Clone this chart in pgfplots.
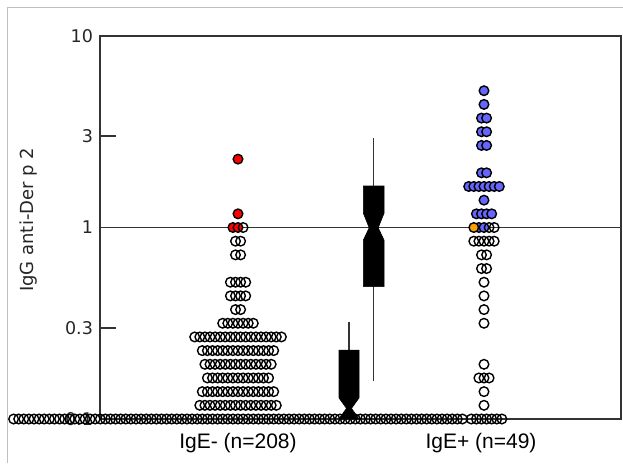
\documentclass[border=0pt]{standalone}
\usepackage{pgfplots}
\pgfplotsset{compat=1.18}
\usepackage{fontspec}
\setmainfont{DejaVu Sans}
\newfontfamily\catfont{Liberation Sans}

\definecolor{frame}{RGB}{51,51,51}
\definecolor{ptred}{RGB}{255,0,0}
\definecolor{ptblue}{RGB}{102,102,255}
\definecolor{ptorange}{RGB}{250,160,0}

% 1 px of the reference = 0.5pt
\begin{document}
\begin{tikzpicture}
\useasboundingbox (0,0) rectangle (311.5pt,231.5pt);
\draw[black!25, line width=0.5pt] (3.5pt,0) -- (3.5pt,228pt) -- (311.5pt,228pt);
\begin{axis}[
    at={(50pt,22pt)}, anchor=south west,
    scale only axis, width=260.5pt, height=191.5pt,
    xmin=100, xmax=621, ymin=0.1, ymax=10, ymode=log,
    clip=false,
    axis line style={frame, line width=0.9pt},
    ytick={0.1,0.3,1,3,10}, yticklabels={0.1,0.3,1,3,10},
    yminorticks=false,
    ytick pos=left, xtick pos=bottom, tick align=inside,
    major tick length=8pt,
    tick style={frame, line width=0.9pt},
    xtick={238,481}, xticklabels={IgE- (n=208), IgE+ (n=49)},
    xtick style={draw=none},
    xticklabel style={font=\catfont\fontsize{10.5}{12}\selectfont, anchor=base, yshift=-14.75pt},
    yticklabel style={font=\fontsize{8.75}{10}\selectfont, text=black!85},
    ylabel={IgG anti-Der p 2},
    ylabel style={font=\fontsize{9}{11}\selectfont, text=black!85, at={(axis description cs:-0.138,0.52)}, anchor=center},
]
% reference line at 1
\addplot[frame, line width=0.9pt] coordinates {(100,1) (621,1)};

% IgE- open circles
\addplot[only marks, mark=o, mark size=2.4pt, line width=0.7pt, black] coordinates {
(13.6,0.1) (18.7,0.1) (23.8,0.1) (28.9,0.1) (34.0,0.1) (39.1,0.1) (44.2,0.1) (49.3,0.1) (54.4,0.1) (59.5,0.1)
(64.6,0.1) (69.7,0.1) (74.8,0.1) (79.9,0.1) (85.0,0.1) (90.1,0.1) (95.2,0.1) (100.3,0.1) (105.4,0.1) (110.5,0.1)
(115.6,0.1) (120.7,0.1) (125.8,0.1) (130.9,0.1) (136.0,0.1) (141.1,0.1) (146.2,0.1) (151.3,0.1) (156.4,0.1) (161.5,0.1)
(166.6,0.1) (171.7,0.1) (176.8,0.1) (181.9,0.1) (187.0,0.1) (192.1,0.1) (197.2,0.1) (202.3,0.1) (207.4,0.1) (212.5,0.1)
(217.6,0.1) (222.7,0.1) (227.8,0.1) (232.9,0.1) (238.0,0.1) (243.1,0.1) (248.2,0.1) (253.3,0.1) (258.4,0.1) (263.5,0.1)
(268.6,0.1) (273.7,0.1) (278.8,0.1) (283.9,0.1) (289.0,0.1) (294.1,0.1) (299.2,0.1) (304.3,0.1) (309.4,0.1) (314.5,0.1)
(319.6,0.1) (324.7,0.1) (329.8,0.1) (334.9,0.1) (340.0,0.1) (345.1,0.1) (350.2,0.1) (355.3,0.1) (360.4,0.1) (365.5,0.1)
(370.6,0.1) (375.7,0.1) (380.8,0.1) (385.9,0.1) (391.0,0.1) (396.1,0.1) (401.2,0.1) (406.3,0.1) (411.4,0.1) (416.5,0.1)
(421.6,0.1) (426.7,0.1) (431.8,0.1) (436.9,0.1) (442.0,0.1) (447.1,0.1) (452.2,0.1) (457.3,0.1) (462.4,0.1)
(199.8,0.117877) (204.9,0.117877) (210.0,0.117877) (215.1,0.117877) (220.2,0.117877) (225.3,0.117877) (230.4,0.117877) (235.5,0.117877)
(240.6,0.117877) (245.7,0.117877) (250.8,0.117877) (255.9,0.117877) (261.0,0.117877) (266.1,0.117877) (271.2,0.117877) (276.3,0.117877)
(202.3,0.13895) (207.4,0.13895) (212.5,0.13895) (217.6,0.13895) (222.7,0.13895) (227.8,0.13895) (232.9,0.13895) (238,0.13895)
(243.1,0.13895) (248.2,0.13895) (253.3,0.13895) (258.4,0.13895) (263.5,0.13895) (268.6,0.13895) (273.7,0.13895)
(207.4,0.163789) (212.5,0.163789) (217.6,0.163789) (222.7,0.163789) (227.8,0.163789) (232.9,0.163789) (238,0.163789)
(243.1,0.163789) (248.2,0.163789) (253.3,0.163789) (258.4,0.163789) (263.5,0.163789) (268.6,0.163789)
(204.9,0.19307) (210.0,0.19307) (215.1,0.19307) (220.2,0.19307) (225.3,0.19307) (230.4,0.19307) (235.5,0.19307)
(240.6,0.19307) (245.7,0.19307) (250.8,0.19307) (255.9,0.19307) (261.0,0.19307) (266.1,0.19307) (271.2,0.19307)
(202.3,0.227585) (207.4,0.227585) (212.5,0.227585) (217.6,0.227585) (222.7,0.227585) (227.8,0.227585) (232.9,0.227585) (238,0.227585)
(243.1,0.227585) (248.2,0.227585) (253.3,0.227585) (258.4,0.227585) (263.5,0.227585) (268.6,0.227585) (273.7,0.227585)
(194.7,0.26827) (199.8,0.26827) (204.9,0.26827) (210.0,0.26827) (215.1,0.26827) (220.2,0.26827) (225.3,0.26827) (230.4,0.26827) (235.5,0.26827)
(240.6,0.26827) (245.7,0.26827) (250.8,0.26827) (255.9,0.26827) (261.0,0.26827) (266.1,0.26827) (271.2,0.26827) (276.3,0.26827) (281.4,0.26827)
(222.7,0.316228) (227.8,0.316228) (232.9,0.316228) (238,0.316228) (243.1,0.316228) (248.2,0.316228) (253.3,0.316228)
(235.5,0.372759) (240.6,0.372759)
(230.4,0.439397) (235.5,0.439397) (240.6,0.439397) (245.7,0.439397)
(230.4,0.517947) (235.5,0.517947) (240.6,0.517947) (245.7,0.517947)
(235.5,0.719686) (240.6,0.719686)
(235.5,0.848343) (240.6,0.848343)
};
% IgE- red circles
\addplot[only marks, mark=*, mark size=2.4pt, line width=0.7pt, black, mark options={fill=ptred}] coordinates {
(232.9,1) (238,1) (238,1.17877) (238,2.27585)
};
\addplot[only marks, mark=o, mark size=2.4pt, line width=0.7pt, black] coordinates {(243.1,1)};

% IgE+ blue circles
\addplot[only marks, mark=*, mark size=2.4pt, line width=0.7pt, black, mark options={fill=ptblue}] coordinates {
(484,5.17947) (484,4.39397)
(481.5,3.72759) (486.6,3.72759)
(481.5,3.16228) (486.6,3.16228)
(481.5,2.6827) (486.6,2.6827)
(481.5,1.9307) (486.6,1.9307)
(468.7,1.63789) (473.8,1.63789) (478.9,1.63789) (484,1.63789) (489.1,1.63789) (494.2,1.63789) (499.3,1.63789)
(484,1.3895)
(476.4,1.17877) (481.5,1.17877) (486.6,1.17877) (491.7,1.17877)
(478.9,1) (484,1)
};
% IgE+ orange circle
\addplot[only marks, mark=*, mark size=2.4pt, line width=0.7pt, black, mark options={fill=ptorange}] coordinates {(473.8,1)};
% IgE+ open circles
\addplot[only marks, mark=o, mark size=2.4pt, line width=0.7pt, black] coordinates {
(489.1,1) (494.2,1)
(473.8,0.848343) (478.9,0.848343) (484,0.848343) (489.1,0.848343) (494.2,0.848343)
(481.5,0.719686) (486.6,0.719686)
(481.5,0.61054) (486.6,0.61054)
(484,0.517947) (484,0.439397) (484,0.372759) (484,0.316228)
(484,0.19307)
(478.9,0.163789) (484,0.163789) (489.1,0.163789)
(484,0.13895) (484,0.117877)
(471.3,0.1) (476.4,0.1) (481.5,0.1) (486.6,0.1) (491.7,0.1) (496.8,0.1) (501.9,0.1)
};

% notched boxes with whiskers
\addplot[frame, line width=0.75pt] coordinates {(349,0.229) (349,0.322)};
\addplot[frame, line width=0.75pt] coordinates {(373.7,0.157) (373.7,2.92)};
\addplot[fill=black, draw=black, line width=0.3pt] coordinates {
(339,0.1) (346.5,0.1137) (339,0.1288) (339,0.229) (359,0.229) (359,0.1288) (351.5,0.1137) (359,0.1) (339,0.1)
};
\addplot[fill=black, draw=black, line width=0.3pt] coordinates {
(363.4,0.491) (363.4,0.86) (369.2,0.997) (363.4,1.186) (363.4,1.647) (384,1.647) (384,1.186) (378.2,0.997) (384,0.86) (384,0.491) (363.4,0.491)
};
\end{axis}
\end{tikzpicture}
\end{document}
